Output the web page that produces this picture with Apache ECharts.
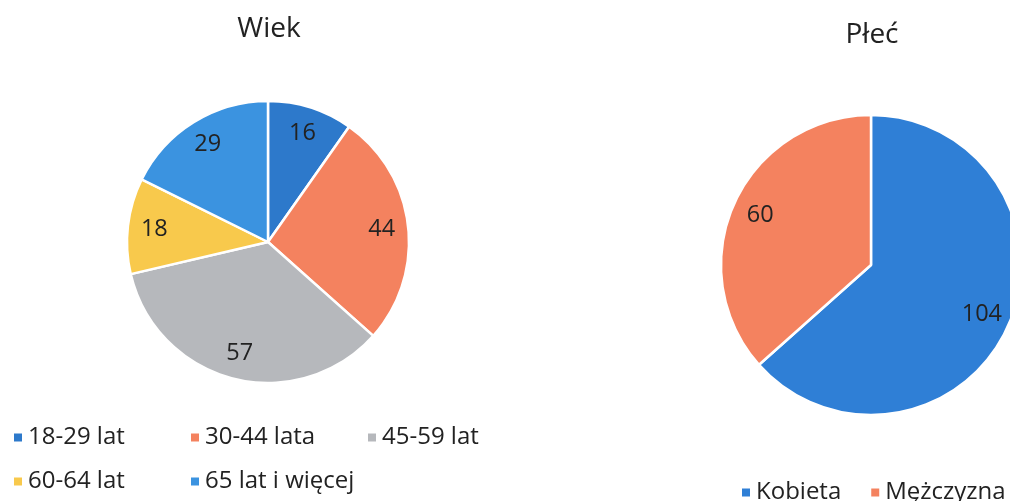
<!DOCTYPE html>
<html>
<head>
<meta charset="utf-8">
<script src="https://cdn.jsdelivr.net/npm/echarts@6/dist/echarts.min.js"></script>
<style>
  html, body { margin: 0; padding: 0; background: #fff; }
  #chart { width: 1010px; height: 501px; }
</style>
</head>
<body>
<div id="chart"></div>
<script>
const ageCategories = ['18-29 lat', '30-44 lata', '45-59 lat', '60-64 lat', '65 lat i więcej'];
const ageValues = [16, 44, 57, 18, 29];
const genderCategories = ['Kobieta', 'Mężczyzna'];
const genderValues = [104, 60];

const ageColors = ['#2d79cb', '#f4825f', '#b6b8bc', '#f8c94c', '#3b93e0'];
const genderColors = ['#2f7fd6', '#f4825f'];
const font = '"Open Sans", "Noto Sans", sans-serif';

const chart = echarts.init(document.getElementById('chart'));

function pieData(names, values, colors) {
  return names.map((name, i) => ({ name, value: values[i], itemStyle: { color: colors[i] } }));
}

// visible pie + a transparent ring on top that only carries the labels
function pieSeries(names, values, colors, center, r) {
  return [
    {
      type: 'pie',
      center: center,
      radius: [0, r],
      startAngle: 90,
      silent: true,
      label: { show: false },
      labelLine: { show: false },
      itemStyle: { borderColor: '#fff', borderWidth: 2.5 },
      data: pieData(names, values, colors)
    },
    {
      type: 'pie',
      center: center,
      radius: [r * 0.58, r],
      startAngle: 90,
      silent: true,
      itemStyle: { color: 'transparent' },
      label: {
        show: true,
        position: 'inside',
        formatter: '{c}',
        color: '#222',
        fontSize: 23.5,
        fontFamily: font
      },
      labelLine: { show: false },
      data: names.map((name, i) => ({ name, value: values[i] }))
    }
  ];
}

const titleStyle = { fontSize: 28, lineHeight: 28, fontWeight: 'normal', color: '#222', fontFamily: font };

const option = {
  animation: false,
  backgroundColor: '#fff',
  title: [
    { text: 'Wiek', left: 269, top: 15, textAlign: 'center', padding: 0, textStyle: titleStyle },
    { text: 'Płeć', left: 872, top: 21, textAlign: 'center', padding: 0, textStyle: titleStyle }
  ],
  legend: [
    {
      data: ageCategories,
      left: 12, top: 421, width: 540, padding: 0,
      icon: 'rect', itemWidth: 10, itemHeight: 10, itemGap: 11,
      selectedMode: false,
      textStyle: { fontSize: 24, color: '#222', fontFamily: font, width: 150, lineHeight: 33 }
    },
    {
      data: genderCategories,
      left: 740, top: 476, padding: 0,
      icon: 'rect', itemWidth: 10, itemHeight: 10, itemGap: 28,
      selectedMode: false,
      textStyle: { fontSize: 24, color: '#222', fontFamily: font, lineHeight: 33 }
    }
  ],
  series: [
    ...pieSeries(ageCategories, ageValues, ageColors, [268, 242], 141),
    ...pieSeries(genderCategories, genderValues, genderColors, [871, 265], 150)
  ]
};

chart.setOption(option);
</script>
</body>
</html>
